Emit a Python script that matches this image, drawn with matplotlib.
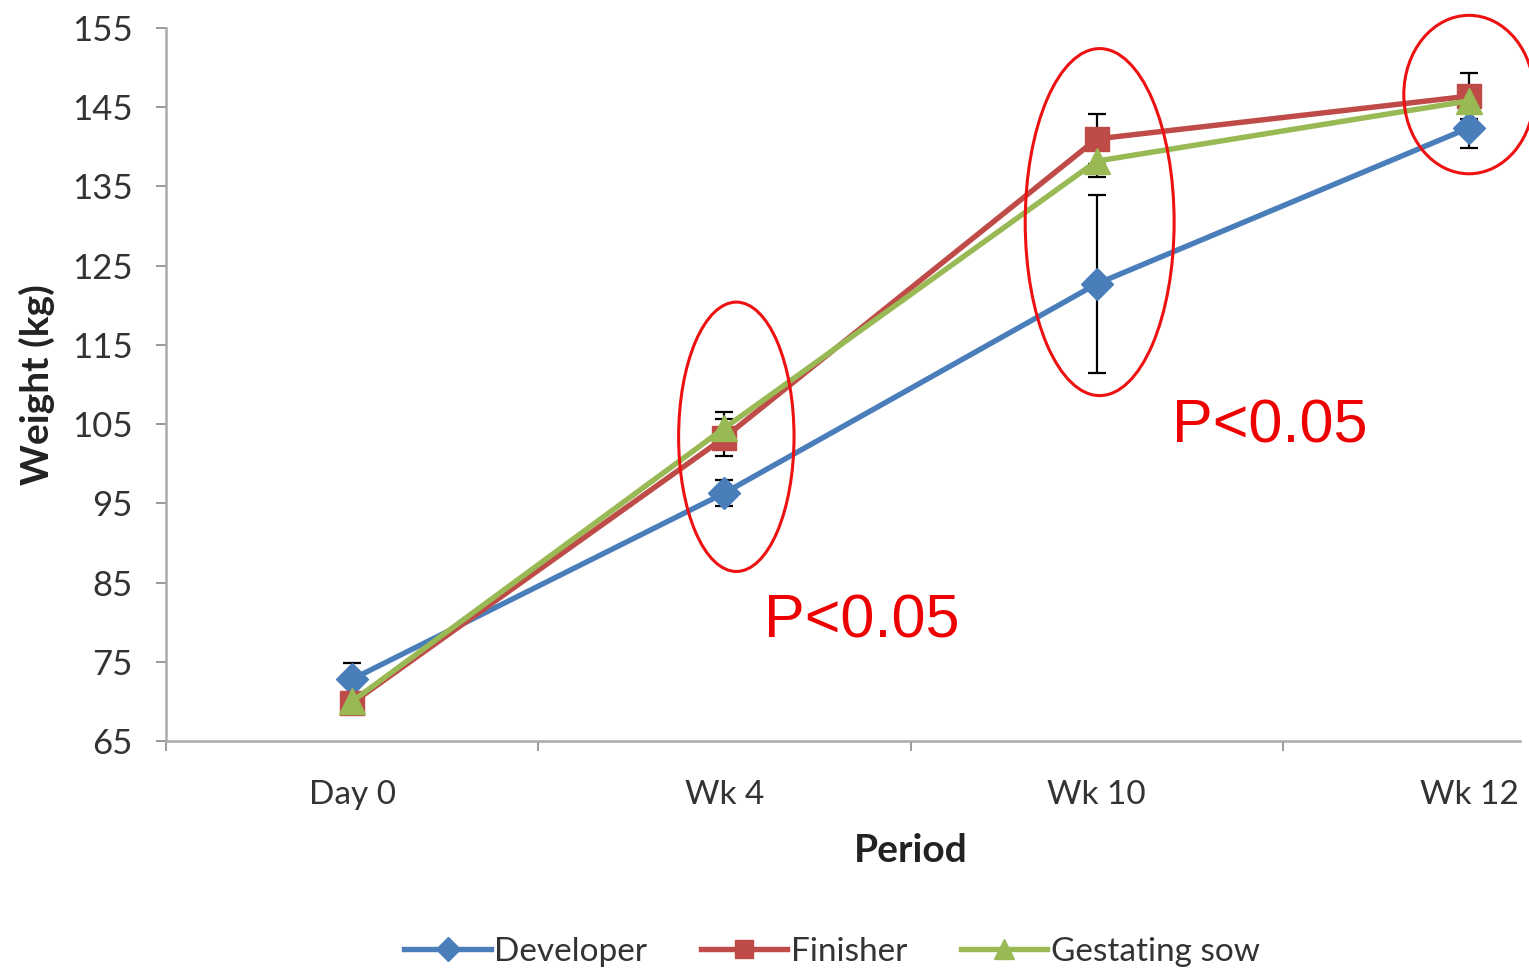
import matplotlib
matplotlib.use("Agg")
import matplotlib.pyplot as plt
from matplotlib.patches import Ellipse
import numpy as np

periods = ["Day 0", "Wk 4", "Wk 10", "Wk 12"]
developer = [72.8, 96.3, 122.7, 142.4]
developer_err = [2.0, 1.6, 11.2, 2.5]
finisher = [69.8, 103.3, 141.0, 146.4]
finisher_err = [0.8, 2.3, 3.2, 2.9]
gestating = [70.0, 104.5, 138.2, 145.8]
gestating_err = [0.8, 2.0, 2.0, 1.0]
y_ticks = [65, 75, 85, 95, 105, 115, 125, 135, 145, 155]

# annotation ellipses: (center x, center y, width, height) in data units
ellipses = [(1.032, 103.4, 0.31, 34.0), (2.008, 130.5, 0.40, 43.8), (3.0, 146.6, 0.35, 20.0)]
p_labels = [(1.105, 78.1, "P<0.05"), (2.202, 102.7, "P<0.05")]

plt.rcParams['font.family'] = ['Lato', 'DejaVu Sans']

W, H = 1529, 971
fig = plt.figure(figsize=(W / 100, H / 100), dpi=100)
ax = fig.add_axes([166 / W, (H - 741) / H, (1520 - 166) / W, (741 - 28) / H])

x = np.arange(len(periods))
series = [
    ("Developer", developer, developer_err, "#4A7EBB", "D", 16),
    ("Finisher", finisher, finisher_err, "#BE4B48", "s", 17),
    ("Gestating sow", gestating, gestating_err, "#98B954", "^", 19),
]
for name, vals, err, col, mk, ms in series:
    ax.errorbar(x, vals, yerr=err, fmt="none", ecolor="black", elinewidth=1.6,
                capsize=6.5, capthick=1.6, zorder=2)
for name, vals, err, col, mk, ms in series:
    ax.plot(x, vals, color=col, lw=3.9, marker=mk, ms=ms, label=name, zorder=3)

for cx, cy, w, h in ellipses:
    ax.add_patch(Ellipse((cx, cy), w, h, fill=False, edgecolor="#EE1111", lw=2.2,
                         clip_on=False, zorder=5))
for tx, ty, s in p_labels:
    ax.text(tx, ty, s, color="#EE0000", fontsize=44, family=["Liberation Sans"],
            ha="left", va="baseline")

ax.set_yticks(y_ticks)
ax.set_xticks(x)
ax.set_xticklabels(periods)
ax.set_xticks(np.arange(-0.5, 3.6, 1.0), minor=True)
ax.set_xlim(-0.5, (1520 - 353) / 372)
ax.set_ylim(65, 155)

for s in ["top", "right"]:
    ax.spines[s].set_visible(False)
for s in ["left", "bottom"]:
    ax.spines[s].set_color("#AAAAAA")
    ax.spines[s].set_linewidth(1.8)

ax.tick_params(axis="y", length=7, width=1.2, color="#888888", labelsize=25,
               labelcolor="#333333", pad=17)
ax.tick_params(axis="x", which="major", length=0, labelsize=24, labelcolor="#333333", pad=28)
ax.tick_params(axis="x", which="minor", length=7, width=1.2, color="#888888")

ax.set_xlabel("Period", fontsize=28, fontweight="bold", color="#222222")
ax.xaxis.set_label_coords((911 - 166) / (1520 - 166), -(850 - 741) / (741 - 28))
ax.xaxis.label.set_va("center")
ax.set_ylabel("Weight (kg)", fontsize=28, fontweight="bold", color="#222222")
ax.yaxis.set_label_coords(-(166 - 37) / (1520 - 166), 0.5)
ax.yaxis.label.set_va("center")

leg = fig.legend(loc="center", bbox_to_anchor=(832 / W, 1 - 952 / H), ncol=3, frameon=False,
                 fontsize=24, handlelength=2.6, columnspacing=1.6, handletextpad=0.1,
                 markerscale=0.75)
for t in leg.get_texts():
    t.set_color("#333333")

fig.savefig("out.png", dpi=100)
